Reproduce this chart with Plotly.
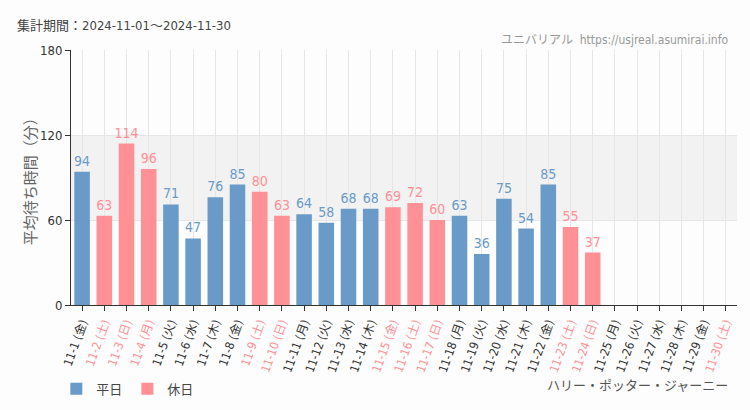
import plotly.graph_objects as go

dates = [f"11-{d}" for d in range(1, 31)]
weekdays = ["金","土","日","月","火","水","木","金","土","日","月","火","水","木","金","土","日","月","火","水","木","金","土","日","月","火","水","木","金","土"]
values = [94, 63, 114, 96, 71, 47, 76, 85, 80, 63, 64, 58, 68, 68, 69, 72, 60, 63, 36, 75, 54, 85, 55, 37, None, None, None, None, None, None]
holiday = [0,1,1,1,0,0,0,0,1,1,0,0,0,0,1,1,1,0,0,0,0,0,1,1,0,0,0,0,0,1]
yticks = [0, 60, 120, 180]

BLUE = "#6a9ac7"
PINK = "#ff9096"
FONT = "DejaVu Sans Condensed, Liberation Sans Narrow, Roboto, Noto Sans CJK JP"

cats = [f"{d} ({w})" for d, w in zip(dates, weekdays)]
ticktext = [f'<span style="color:{PINK}">{c}</span>' if h else c for c, h in zip(cats, holiday)]

wk_vals = [v if (v is not None and not h) else None for v, h in zip(values, holiday)]
ho_vals = [v if (v is not None and h) else None for v, h in zip(values, holiday)]

fig = go.Figure()
fig.add_trace(go.Bar(x=cats, y=wk_vals, name="平日", marker=dict(color=BLUE, line=dict(width=0)),
                     width=0.7, text=[str(v) if v is not None else "" for v in wk_vals],
                     textposition="outside", constraintext="none",
                     textfont=dict(color=BLUE, size=14, family=FONT), cliponaxis=False))
fig.add_trace(go.Bar(x=cats, y=ho_vals, name="休日", marker=dict(color=PINK, line=dict(width=0)),
                     width=0.7, text=[str(v) if v is not None else "" for v in ho_vals],
                     textposition="outside", constraintext="none",
                     textfont=dict(color=PINK, size=14, family=FONT), cliponaxis=False))

fig.add_shape(type="rect", xref="paper", yref="y", x0=0, x1=1, y0=60, y1=120,
              fillcolor="#f2f2f2", line=dict(width=0), layer="below")

fig.update_layout(
    width=750, height=410,
    margin=dict(l=71, r=13, t=50, b=105, autoexpand=False),
    paper_bgcolor="#fcfdfc", plot_bgcolor="#fcfdfc",
    barmode="overlay",
    font=dict(family=FONT, color="#444", size=13),
    showlegend=True,
    legend=dict(orientation="h", x=-0.022, y=-0.27, xanchor="left", yanchor="top",
                font=dict(size=13, color="#444", family="Noto Sans CJK JP"), traceorder="normal"),
    xaxis=dict(type="category", categoryorder="array", categoryarray=cats,
               tickvals=cats, ticktext=ticktext, tickangle=-70, automargin=False,
               showgrid=True, gridcolor="#e6e6e6", showline=True, linecolor="#333",
               ticks="outside", ticklen=5, tickcolor="#333",
               tickfont=dict(size=12, color="#333", family=FONT)),
    yaxis=dict(range=[0, 180], tickvals=yticks, showgrid=True, gridcolor="#e6e6e6",
               showline=True, linecolor="#333", ticks="outside", ticklen=5, tickcolor="#333",
               zeroline=False, automargin=False, tickfont=dict(size=13, color="#333", family=FONT)),
    annotations=[
        dict(text="平均待ち時間（分）", xref="paper", yref="paper", x=-0.062, y=0.5,
             xanchor="center", yanchor="middle", textangle=-90, showarrow=False,
             font=dict(size=15, color="#666", family="Noto Sans CJK JP")),
        dict(text="集計期間：2024-11-01～2024-11-30", xref="paper", yref="paper", x=-0.084, y=1.0,
             yshift=25, xanchor="left", yanchor="middle", showarrow=False,
             font=dict(size=13, color="#444", family=FONT)),
        dict(text="ユニバリアル  https://usjreal.asumirai.info", xref="paper", yref="paper", x=1.0, y=1.0,
             yshift=10, xshift=-7, xanchor="right", yanchor="middle", showarrow=False,
             font=dict(size=12, color="#999", family=FONT)),
        dict(text="ハリー・ポッター・ジャーニー", xref="paper", yref="paper", x=1.0, y=0,
             yshift=-80, xshift=-7, xanchor="right", yanchor="middle", showarrow=False,
             font=dict(size=13, color="#555", family=FONT)),
    ],
)

fig.write_html("out.html", config={"displayModeBar": False},
               post_script="document.body.style.margin='0';")
